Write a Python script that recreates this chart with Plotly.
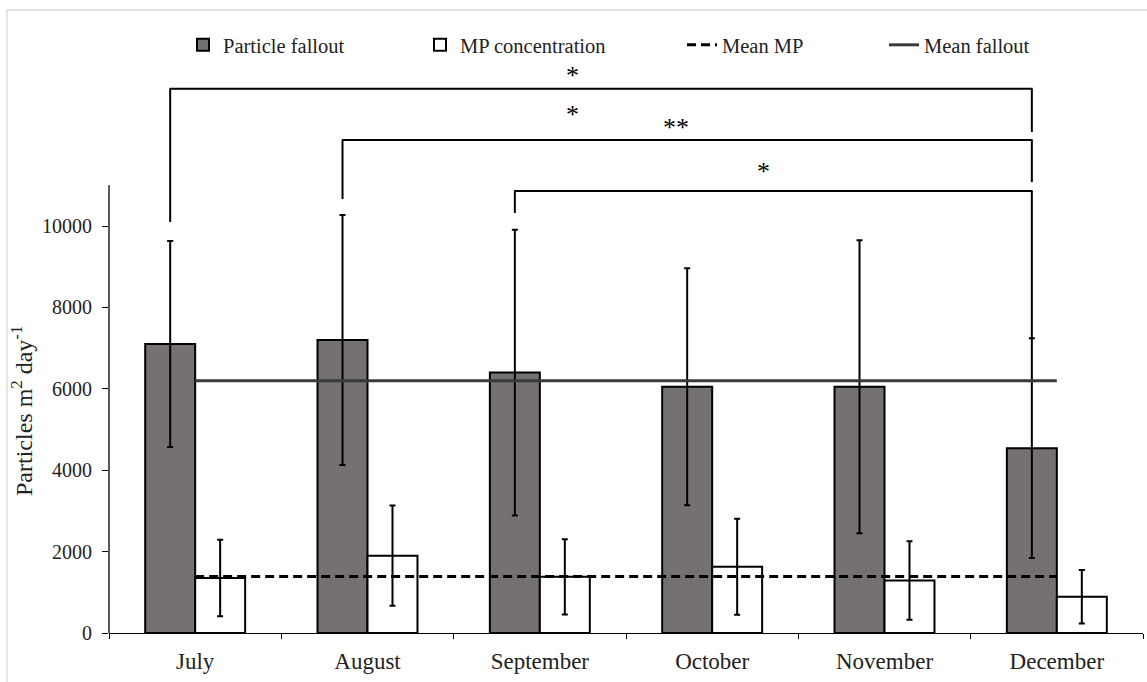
import plotly.graph_objects as go

# ---------------- data ----------------
months = ["July", "August", "September", "October", "November", "December"]
fallout = [7100, 7200, 6400, 6050, 6050, 4540]
fallout_sd = [2530, 3070, 3510, 2910, 3600, 2700]
mp = [1350, 1900, 1380, 1630, 1290, 890]
mp_sd = [940, 1230, 925, 1180, 965, 655]
mean_mp = 1390
mean_fallout = 6200

y_ticks = [0, 2000, 4000, 6000, 8000, 10000]
y_tick_text = ["0", "2000", "4000", "6000", "8000", "10000"]
y_axis_max = 11000

# significance brackets (from gray bar of month A to gray bar of month B)
sig_from = ["July", "August", "September"]
sig_to = ["December", "December", "December"]
sig_top = [13370, 12110, 10860]
sig_left_end = [10100, 10660, 10320]
sig_right_end = [12310, 11080, None]  # None: down to the error bar top
star_text = ["*", "*", "**", "*"]
star_x = [2.19, 2.19, 2.79, 3.30]
star_y = [13880, 12900, 12600, 11500]

# ---------------- style ----------------
FONT = "Liberation Serif"
GRAY = "#767171"
W, H = 1147, 682
ML, MR, MT, MB = 109, 4, 60, 49
PW, PH = W - ML - MR, H - MT - MB
BARGAP = 0.42
YMAX = PH / 0.0407  # data units covering the plot height

fig = go.Figure()
fig.add_trace(go.Bar(
    x=months, y=fallout, name="Particle fallout",
    marker=dict(color=GRAY, line=dict(color="black", width=2)),
    error_y=dict(type="data", array=fallout_sd, color="black", thickness=2, width=3),
    legend="legend",
))
fig.add_trace(go.Bar(
    x=months, y=mp, name="MP concentration",
    marker=dict(color="white", line=dict(color="black", width=2)),
    error_y=dict(type="data", array=mp_sd, color="black", thickness=2, width=3),
    legend="legend2",
))
fig.add_trace(go.Scatter(
    x=months, y=[mean_mp] * len(months), name="Mean MP", mode="lines",
    line=dict(color="black", width=3, dash="9px,5px"), legend="legend3",
))
fig.add_trace(go.Scatter(
    x=months, y=[mean_fallout] * len(months), name="Mean fallout", mode="lines",
    line=dict(color="#3a3a3a", width=3), legend="legend4",
))

shapes = []
# y-axis line only up to y_axis_max
shapes.append(dict(type="line", xref="paper", yref="y", x0=0, x1=0, y0=0, y1=y_axis_max,
                   line=dict(color="black", width=1.3)))


def px_x(p):
    return (p - ML) / PW


def px_y(p):
    return (H - MB - p) / PH


# chart-area border
shapes.append(dict(type="rect", xref="paper", yref="paper",
                   x0=px_x(7), x1=px_x(W + 5), y0=px_y(H + 5), y1=px_y(10),
                   line=dict(color="#d9d9d9", width=1.3), fillcolor="rgba(0,0,0,0)", layer="below"))

off = (1 - BARGAP) / 4
for a, b, top, le, re in zip(sig_from, sig_to, sig_top, sig_left_end, sig_right_end):
    xa = months.index(a) - off
    xb = months.index(b) - off
    if re is None:
        re = fallout[months.index(b)] + fallout_sd[months.index(b)]
    ln = dict(color="black", width=2)
    shapes.append(dict(type="line", xref="x", yref="y", x0=xa, x1=xa, y0=le, y1=top, line=ln))
    shapes.append(dict(type="line", xref="x", yref="y", x0=xa - 0.004, x1=xb + 0.004, y0=top, y1=top, line=ln))
    shapes.append(dict(type="line", xref="x", yref="y", x0=xb, x1=xb, y0=top, y1=re, line=ln))

annotations = []
for t, sx, sy in zip(star_text, star_x, star_y):
    annotations.append(dict(text=t, x=sx, y=sy, xref="x", yref="y", showarrow=False,
                            font=dict(family=FONT, size=26, color="black"), yshift=-7))
annotations.append(dict(text="Particles m<sup>2</sup> day<sup>-1</sup>", textangle=-90,
                        xref="paper", yref="paper", x=px_x(22), y=px_y(411),
                        xanchor="center", yanchor="middle", showarrow=False,
                        font=dict(family=FONT, size=24, color="#222")))

leg_common = dict(orientation="h", yanchor="middle", y=px_y(45), xanchor="left",
                  bgcolor="rgba(0,0,0,0)", font=dict(family=FONT, size=20.5, color="#222"),
                  itemwidth=30, tracegroupgap=0)
fig.update_layout(
    width=W, height=H,
    margin=dict(l=ML, r=MR, t=MT, b=MB, pad=0),
    paper_bgcolor="white", plot_bgcolor="white",
    barmode="group", bargap=BARGAP, bargroupgap=0,
    font=dict(family=FONT, size=20, color="#222"),
    showlegend=True,
    legend=dict(x=px_x(183), **leg_common),
    legend2=dict(x=px_x(420), **leg_common),
    legend3=dict(x=px_x(682), **leg_common),
    legend4=dict(x=px_x(884), **leg_common),
    xaxis=dict(showline=True, linecolor="black", linewidth=1.3, ticks="outside",
               tickson="boundaries", ticklen=5, tickwidth=1.3, tickcolor="black",
               tickfont=dict(family=FONT, size=23, color="#222"), showgrid=False,
               zeroline=False, range=[-0.5, 5.5], ticklabelstandoff=7),
    yaxis=dict(range=[0, YMAX], tickvals=y_ticks, ticktext=y_tick_text, ticks="outside", ticklen=6,
               tickwidth=1.3, tickcolor="black", showline=False, showgrid=False,
               zeroline=False, tickfont=dict(family=FONT, size=20, color="#222"),
               ticklabelstandoff=6),
    shapes=shapes,
    annotations=annotations,
)

fig.write_html("out.html")
